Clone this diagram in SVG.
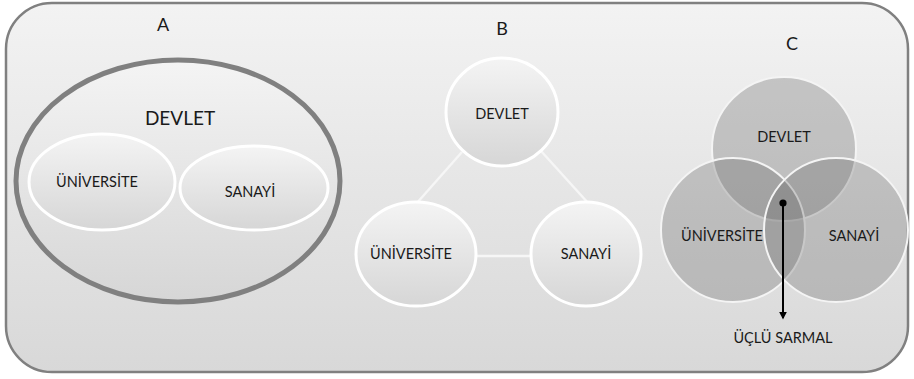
<svg xmlns="http://www.w3.org/2000/svg" width="914" height="379" viewBox="0 0 914 379">
<defs>
<linearGradient id="bg" x1="0" y1="0" x2="0" y2="1">
<stop offset="0" stop-color="#f3f3f3"/>
<stop offset="1" stop-color="#d8d8d8"/>
</linearGradient>
<linearGradient id="nodeg" x1="0" y1="0" x2="0" y2="1">
<stop offset="0" stop-color="#f4f4f4"/>
<stop offset="1" stop-color="#d6d6d6"/>
</linearGradient>
<marker id="arrow" viewBox="0 0 10 10" refX="8" refY="5" markerWidth="4" markerHeight="4" orient="auto">
<path d="M0,0 L10,5 L0,10 z" fill="#000"/>
</marker>
<marker id="dot" viewBox="0 0 10 10" refX="5" refY="5" markerWidth="4" markerHeight="4">
<circle cx="5" cy="5" r="4.5" fill="#000"/>
</marker>
</defs>
<style>
text{font-family:"Lato","Open Sans","Liberation Sans",sans-serif;fill:#1a1a1a;text-anchor:middle}
.lbl{font-size:18px}
.big{font-size:19px}
.n{font-size:14.5px}
.white{fill:url(#nodeg);stroke:#ffffff;stroke-width:3}
.venn{fill:#666666;fill-opacity:0.31;stroke:#f4f4f4;stroke-width:2}
.conn{stroke:#f6f6f6;stroke-width:2.5;fill:none}
</style>
<rect id="frame" x="6" y="3" width="902" height="369" rx="46" ry="46" fill="url(#bg)" stroke="#808080" stroke-width="2.5"/>
<g id="panelA">
<text class="lbl" x="163" y="31">A</text>
<g id="A-devlet">
<ellipse cx="178" cy="181" rx="162" ry="121" fill="url(#nodeg)" stroke="#808080" stroke-width="5"/>
<text class="big" x="180" y="125">DEVLET</text>
</g>
<g id="A-universite">
<ellipse class="white" cx="102" cy="182" rx="73" ry="48"/>
<text class="n" x="97" y="187">ÜNİVERSİTE</text>
</g>
<g id="A-sanayi">
<ellipse class="white" cx="254" cy="188" rx="74" ry="42"/>
<text class="n" x="250" y="197">SANAYİ</text>
</g>
</g>
<g id="panelB">
<text class="lbl" x="502" y="35">B</text>
<g id="B-connectors">
<line class="conn" x1="462" y1="152" x2="416" y2="204"/>
<line class="conn" x1="541" y1="151" x2="589" y2="204"/>
<line class="conn" x1="477" y1="256" x2="532" y2="256"/>
</g>
<g id="B-devlet">
<ellipse class="white" cx="502" cy="112" rx="56" ry="54"/>
<text class="n" x="502" y="119">DEVLET</text>
</g>
<g id="B-universite">
<ellipse class="white" cx="416" cy="254" rx="60" ry="52"/>
<text class="n" x="411" y="259">ÜNİVERSİTE</text>
</g>
<g id="B-sanayi">
<ellipse class="white" cx="586" cy="254" rx="55" ry="52"/>
<text class="n" x="586" y="259">SANAYİ</text>
</g>
</g>
<g id="panelC">
<text class="lbl" x="792" y="50">C</text>
<g id="C-devlet"><circle class="venn" cx="784" cy="149" r="72"/></g>
<g id="C-universite"><circle class="venn" cx="733" cy="230" r="72"/></g>
<g id="C-sanayi"><circle class="venn" cx="836" cy="230" r="72"/></g>
<text class="n" x="784" y="142">DEVLET</text>
<text class="n" x="722" y="241">ÜNİVERSİTE</text>
<text class="n" x="854" y="241">SANAYİ</text>
<g id="C-connectors">
<line x1="783" y1="203" x2="783" y2="318" stroke="#000" stroke-width="2" marker-start="url(#dot)" marker-end="url(#arrow)"/>
</g>
<g id="C-uclu"><text class="n" x="783" y="343">ÜÇLÜ SARMAL</text></g>
</g>
</svg>
